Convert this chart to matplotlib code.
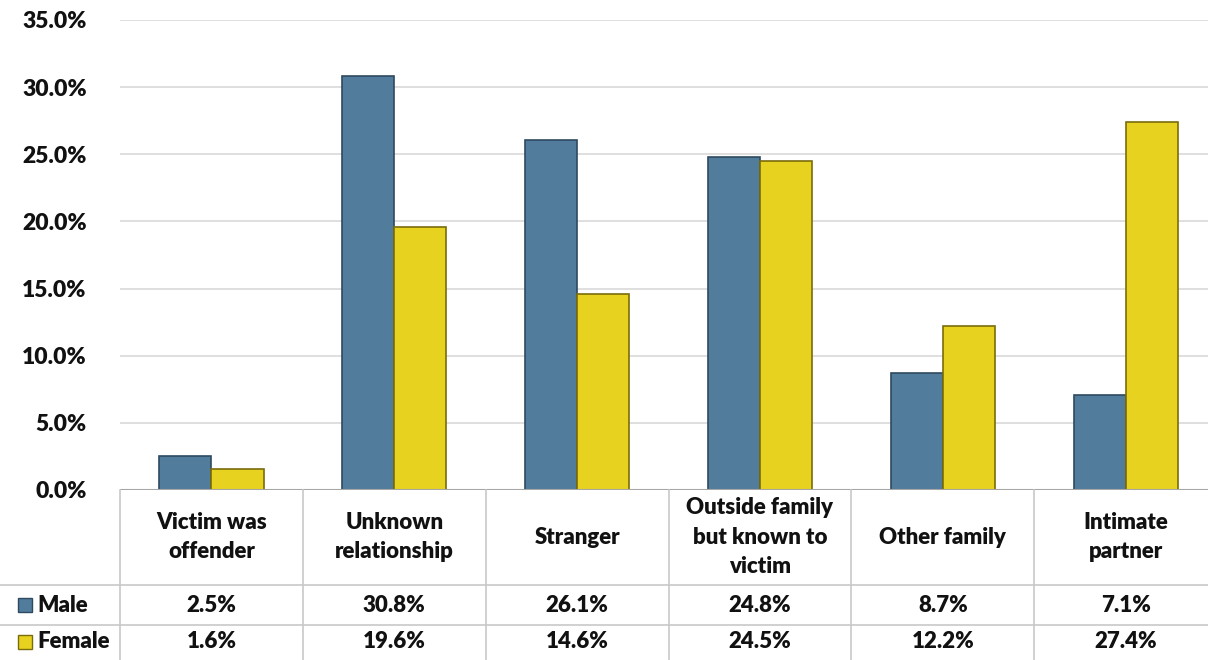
import matplotlib
matplotlib.use("Agg")
import matplotlib.pyplot as plt
import matplotlib.transforms as mtransforms
from matplotlib.lines import Line2D
from matplotlib.patches import Rectangle

categories = ["Victim was\noffender", "Unknown\nrelationship", "Stranger",
              "Outside family\nbut known to\nvictim", "Other family", "Intimate\npartner"]
series_names = ["Male", "Female"]
male = [2.5, 30.8, 26.1, 24.8, 8.7, 7.1]
female = [1.6, 19.6, 14.6, 24.5, 12.2, 27.4]
yticks = [0, 5, 10, 15, 20, 25, 30, 35]

plt.rcParams['font.family'] = ['Lato', 'DejaVu Sans']
W, H = 1208, 660
fig = plt.figure(figsize=(W / 100, H / 100), dpi=100)
ax = fig.add_axes([120 / W, (H - 490) / H, 1088 / W, 470 / H])

male_face, male_edge = '#517C9C', '#2E4A60'
fem_face, fem_edge = '#E7D21F', '#7A6C0C'
bw = 0.285
x = list(range(len(categories)))
ax.bar([i - bw / 2 for i in x], male, width=bw, color=male_face, edgecolor=male_edge, linewidth=1.2, zorder=3)
ax.bar([i + bw / 2 for i in x], female, width=bw, color=fem_face, edgecolor=fem_edge, linewidth=1.2, zorder=3)

wt = 'heavy'
ax.set_xlim(-0.5, 5.45)
ax.set_ylim(0, 35)
ax.set_yticks(yticks)
ax.set_yticklabels([f"{t:.1f}%" for t in yticks], fontsize=16.5, fontweight=wt, color='#111111')
ax.tick_params(axis='y', length=0, pad=24)
ax.set_xticks([])
ax.grid(axis='y', color='#D9D9D9', linewidth=1.2, zorder=0)
for s in ax.spines.values():
    s.set_visible(False)
ax.axhline(0, color='#A6A6A6', linewidth=1.5, zorder=4)

def py(p):
    return (H - p) / H

tr = mtransforms.blended_transform_factory(ax.transData, fig.transFigure)
ftr = fig.transFigure
line_col = '#C8C8C8'
for i in range(len(categories)):
    xl = i - 0.5
    fig.add_artist(Line2D([xl, xl], [py(490), py(660)], transform=tr, color=line_col, lw=1.2, clip_on=False))
for yy in [585, 625]:
    fig.add_artist(Line2D([0, 1], [py(yy), py(yy)], transform=ftr, color=line_col, lw=1.2))

fs = 16
for i, cat in enumerate(categories):
    ax.text(i, py(537), cat, transform=tr, ha='center', va='center', fontsize=fs,
            fontweight=wt, color='#111111', linespacing=1.5, clip_on=False)
    ax.text(i, py(605), f"{male[i]:.1f}%", transform=tr, ha='center', va='center',
            fontsize=fs, fontweight=wt, color='#111111', clip_on=False)
    ax.text(i, py(642), f"{female[i]:.1f}%", transform=tr, ha='center', va='center',
            fontsize=fs, fontweight=wt, color='#111111', clip_on=False)

for yc, name, fc, ec in [(605, series_names[0], male_face, male_edge), (642, series_names[1], fem_face, fem_edge)]:
    fig.add_artist(Rectangle((18 / W, py(yc + 7)), 14 / W, 14 / H, transform=ftr,
                             facecolor=fc, edgecolor=ec, lw=1))
    fig.text(37 / W, py(yc), name, ha='left', va='center', fontsize=fs, fontweight=wt, color='#111111')

fig.savefig("out.png", dpi=100)
